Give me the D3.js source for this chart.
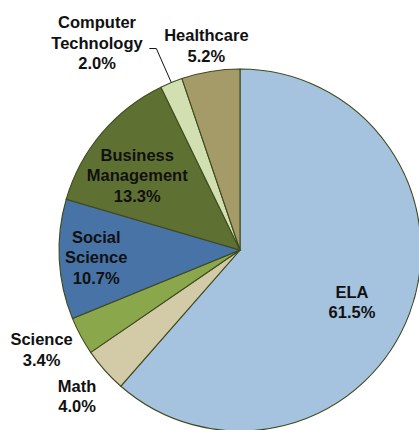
<!DOCTYPE html>
<html>
<head>
<meta charset="utf-8">
<script src="https://cdn.jsdelivr.net/npm/d3@7"></script>
<style>
  html, body { margin: 0; padding: 0; background: #fff; }
  svg { display: block; }
</style>
</head>
<body>
<script>
// chart data
var categories = ["ELA", "Math", "Science", "Social Science", "Business Management", "Computer Technology", "Healthcare"];
var shares = [61.5, 4.0, 3.4, 10.7, 13.3, 2.0, 5.2];
var labelLines = [["ELA"], ["Math"], ["Science"], ["Social", "Science"], ["Business", "Management"], ["Computer", "Technology"], ["Healthcare"]];
var colors = ["#a5c2df", "#d3caa8", "#8ba74c", "#4773a7", "#5f7033", "#d2dfb1", "#a49b69"];

// label placement (radius from centre plus a nudge)
var labelRadius = [125, 218, 222, 144, 128, 224, 207];
var labelShift = [[-5, 8], [0, 1], [-3, -6], [0, 0], [-5, 8], [-58, 0], [0, 0]];

var width = 419;
var height = 430;
var cx = 240, cy = 250, radius = 181;

var svg = d3.select("body").append("svg")
  .attr("width", width)
  .attr("height", height);

var g = svg.append("g").attr("transform", "translate(" + cx + "," + cy + ")");

var pie = d3.pie().sort(null).value(function(d) { return d; });
var arcs = pie(shares);

var arc = d3.arc().innerRadius(0).outerRadius(radius);

g.selectAll("path.slice")
  .data(arcs)
  .enter().append("path")
  .attr("class", "slice")
  .attr("d", arc)
  .style("fill", function(d, i) { return colors[i]; })
  .style("stroke", "#3f4a1f")
  .style("stroke-width", 1.1);

function polar(r, a) {
  return [r * Math.sin(a), -r * Math.cos(a)];
}

// leader line for Computer Technology
var ct = arcs[5];
var ctMid = (ct.startAngle + ct.endAngle) / 2;
var p0 = polar(radius, ctMid);
var p1 = [p0[0] - 15, p0[1] - 34];
var p2 = [p1[0] - 7, p1[1]];
g.append("path")
  .attr("d", d3.line()([p0, p1, p2]))
  .style("fill", "none")
  .style("stroke", "#111")
  .style("stroke-width", 1);

// labels
var fontSize = 16.5;
var lineH = 20.5;
var labels = g.selectAll("text.lbl")
  .data(arcs)
  .enter().append("text")
  .attr("class", "lbl")
  .attr("text-anchor", "middle")
  .style("font-family", "'Liberation Sans', Arial, Helvetica, sans-serif")
  .style("font-weight", "bold")
  .style("font-size", fontSize + "px")
  .style("fill", "#111")
  .each(function(d, i) {
    var mid = (d.startAngle + d.endAngle) / 2;
    var p = polar(labelRadius[i], mid);
    var x = p[0] + labelShift[i][0];
    var y = p[1] + labelShift[i][1];
    var lines = labelLines[i].concat([shares[i].toFixed(1) + "%"]);
    var top = y - (lines.length - 1) * lineH / 2 + fontSize * 0.36;
    var t = d3.select(this);
    lines.forEach(function(s, k) {
      t.append("tspan")
        .attr("x", x)
        .attr("y", top + k * lineH)
        .text(s);
    });
  });
</script>
</body>
</html>
